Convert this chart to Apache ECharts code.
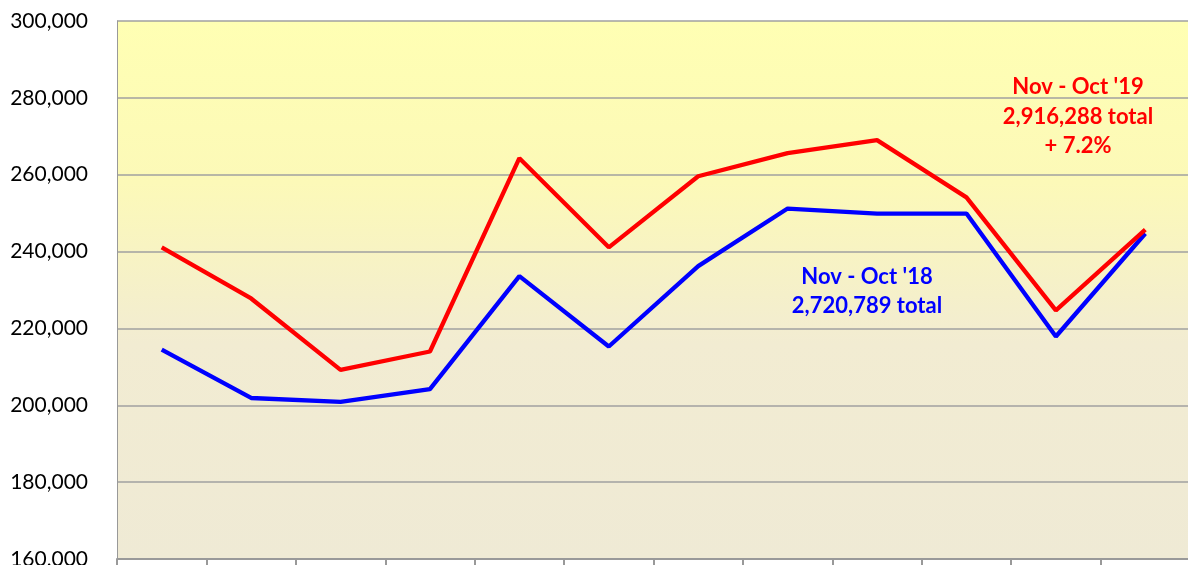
<!DOCTYPE html>
<html><head><meta charset="utf-8">
<script src="https://cdn.jsdelivr.net/npm/echarts@6/dist/echarts.min.js"></script>
<style>html,body{margin:0;padding:0;background:#fff}#c{width:1188px;height:565px}</style>
</head><body><div id="c"></div>
<script>
const categories = ['Nov','Dec','Jan','Feb','Mar','Apr','May','Jun','Jul','Aug','Sep','Oct'];
const fy19 = [241100, 227800, 209200, 214000, 264300, 241100, 259600, 265600, 269000, 254100, 224700, 245700];
const fy18 = [214500, 201900, 200900, 204200, 233600, 215300, 236200, 251200, 249900, 249900, 217900, 244700];
const yTicks = {min:160000, max:300000, interval:20000};
const label19 = ["Nov - Oct '19", "2,916,288 total", "+ 7.2%"];
const label18 = ["Nov - Oct '18", "2,720,789 total"];

const chart = echarts.init(document.getElementById('c'), null, {renderer:'canvas'});
const font = 'Lato, "Open Sans", sans-serif';
chart.setOption({
  animation:false,
  grid:{left:117, right:-2, top:21, bottom:6, containLabel:false, outerBoundsMode:'none'},
  xAxis:{type:'category', data:categories, boundaryGap:true,
    axisLine:{lineStyle:{color:'#999', width:2}},
    axisTick:{show:true, length:8, lineStyle:{color:'#999', width:2}},
    axisLabel:{show:false}},
  yAxis:{type:'value', min:yTicks.min, max:yTicks.max, interval:yTicks.interval,
    axisLine:{show:true, lineStyle:{color:'#999', width:1}},
    axisTick:{show:false},
    splitLine:{lineStyle:{color:'#a0a0a0', width:1.5}},
    axisLabel:{fontFamily:font, fontSize:21, color:'#000', margin:29,
      formatter:v=>v.toLocaleString('en-US')}},
  series:[
    {type:'line', data:fy18, symbol:'none', lineStyle:{color:'#0000FF', width:4.3}, z:3},
    {type:'line', data:fy19, symbol:'none', lineStyle:{color:'#FF0000', width:4.3}, z:4}
  ],
  graphic:[
    {type:'rect', z:-1, shape:{x:117, y:21, width:1075, height:538},
      style:{fill:new echarts.graphic.LinearGradient(0,0,0,1,[
        {offset:0,color:'#FFFFB3'},{offset:0.3,color:'#FCF9B8'},{offset:0.6,color:'#F2ECD2'},{offset:1,color:'#EFEAD5'}])},
      silent:true},
    ...label19.map((t,i)=>({type:'text', x:1078, y:87+i*29.5, z:10,
      style:{text:t, fill:'#FF0000', font:'bold 22px '+font, textAlign:'center', textVerticalAlign:'middle'}})),
    ...label18.map((t,i)=>({type:'text', x:867, y:277+i*29, z:10,
      style:{text:t, fill:'#0000FF', font:'bold 22px '+font, textAlign:'center', textVerticalAlign:'middle'}}))
  ]
});
</script></body></html>
